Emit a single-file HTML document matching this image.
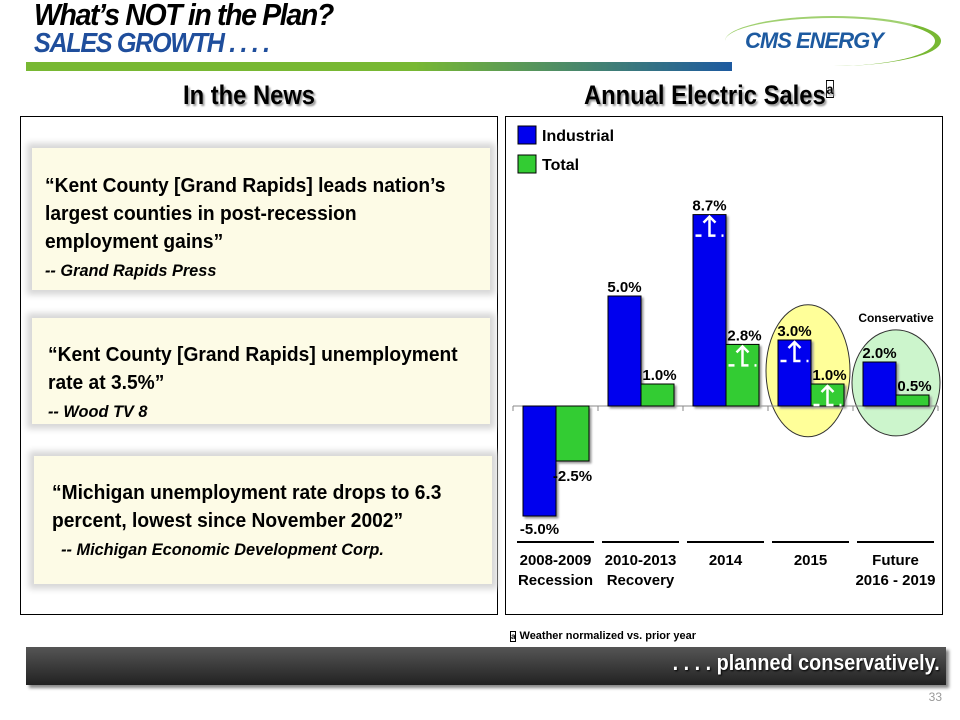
<!DOCTYPE html>
<html><head><meta charset="utf-8"><style>
body{margin:0;width:960px;height:720px;background:#fff;position:relative;overflow:hidden;font-family:"Liberation Sans",sans-serif}
.abs{position:absolute}
.t1{left:34px;top:-3px;font:italic bold 31px "Liberation Sans",sans-serif;letter-spacing:-1.5px;transform:scaleX(.92);transform-origin:left;color:#000;white-space:nowrap}
.t2{left:34px;top:27px;font:italic bold 28px "Liberation Sans",sans-serif;letter-spacing:-1.5px;transform:scaleX(.9);transform-origin:left;color:#1f4e9c;white-space:nowrap}
.h{font:bold 27px "Liberation Sans",sans-serif;transform:scaleX(.88);transform-origin:left;text-shadow:2px 2px 2px #999;white-space:nowrap}
.panel{border:1px solid #000;background:#fff}
.qbox{background:#fdfbe6;box-shadow:0 0 6px 5px #d8d8d8}
.quote{font-weight:bold;font-size:20px;line-height:28px;transform:scaleX(.96);transform-origin:left top;white-space:normal}
</style></head><body>
<div class="abs t1">What’s NOT in the Plan?</div>
<div class="abs t2">SALES GROWTH . . . .</div>
<div class="abs" style="left:26px;top:62px;width:706px;height:9px;background:linear-gradient(90deg,#78b833 0%,#78b833 55%,#1d5aa0 100%)"></div>
<div class="abs" style="left:725px;top:16px;width:210px;height:48px;border-right:6px solid #78b833;border-radius:50%;border-top:2px solid #a0d070;"></div>
<div class="abs" style="left:745px;top:28px;font:italic bold 22px 'Liberation Sans',sans-serif;color:#1d5aa0;letter-spacing:-1px">CMS ENERGY</div>
<div class="abs h" style="left:183px;top:80px">In the News</div>
<div class="abs h" style="left:584px;top:80px">Annual Electric Sales<sup style="font-size:14px;border:1px solid #000">a</sup></div>
<div class="abs panel" style="left:20px;top:116px;width:476px;height:497px"></div>
<div class="abs qbox" style="left:32px;top:148px;width:458px;height:142px"></div>
<div class="abs quote" style="left:45px;top:172px;width:440px">“Kent County [Grand Rapids] leads nation’s largest counties in post-recession employment gains”<br><span style="font-size:17px;font-style:italic">-- Grand Rapids Press</span></div>
<div class="abs qbox" style="left:32px;top:318px;width:458px;height:106px"></div>
<div class="abs quote" style="left:48px;top:341px;width:450px">“Kent County [Grand Rapids] unemployment rate at 3.5%”<br><span style="font-size:17px;font-style:italic">--  Wood TV 8</span></div>
<div class="abs qbox" style="left:34px;top:456px;width:458px;height:128px"></div>
<div class="abs quote" style="left:52px;top:479px;width:440px">“Michigan unemployment rate drops to 6.3 percent, lowest since November 2002”<br><span style="font-size:17px;font-style:italic">&nbsp;&nbsp;--  Michigan Economic Development Corp.</span></div>
<div class="abs panel" style="left:505px;top:116px;width:436px;height:497px"></div>
<svg class="abs" style="left:0;top:0" width="960" height="720" id="chart"></svg>
<div class="abs" style="left:510px;top:630px;font:bold 11px 'Liberation Sans',sans-serif"><span style="border:1px solid #000;font-size:8px">a</span> Weather normalized vs. prior year</div>
<div class="abs" style="left:26px;top:647px;width:920px;height:38px;background:linear-gradient(#555,#222);box-shadow:3px 3px 3px #888"></div>
<div class="abs" style="right:20px;top:650px;color:#fff;font:bold 22px 'Liberation Sans',sans-serif;transform:scaleX(.9);transform-origin:right;text-shadow:1px 1px 2px #000">. . . . planned conservatively.</div>
<div class="abs" style="right:18px;top:690px;color:#999;font-size:12px">33</div>
<script>
const categories=["2008-2009|Recession","2010-2013|Recovery","2014","2015","Future|2016 - 2019"];
const industrial=[-5.0,5.0,8.7,3.0,2.0];
const total=[-2.5,1.0,2.8,1.0,0.5];
const labelsInd=["-5.0%","5.0%","8.7%","3.0%","2.0%"];
const labelsTot=["-2.5%","1.0%","2.8%","1.0%","0.5%"];
const svg=document.getElementById('chart');const NS='http://www.w3.org/2000/svg';
const y0=406,k=22,gx0=513,gw=85,bw=33;
const FF="'Liberation Sans Narrow','Liberation Sans',sans-serif";
const y=v=>y0-v*k;
function mk(t,a,txt){const e=document.createElementNS(NS,t);for(const n in a)e.setAttribute(n,a[n]);if(txt!=null)e.textContent=txt;svg.appendChild(e);return e;}
let o=mk('ellipse',{cx:gx0+3*gw+40,cy:y(1.6),rx:42,ry:66,fill:'#ffff99',stroke:'#333'});

o=mk('ellipse',{cx:gx0+4*gw+43,cy:y(1.05),rx:44,ry:53,fill:'#ccf5cc',stroke:'#333'});

let c=mk('text',{x:gx0+4*gw+43,y:322,'text-anchor':'middle','font-size':12,'font-weight':'bold','font-family':FF},'Conservative');

let ax=mk('line',{x1:gx0,x2:gx0+5*gw,y1:y0,y2:y0,stroke:'#888'});

for(let i=0;i<=5;i++){let t=mk('line',{x1:gx0+i*gw,x2:gx0+i*gw,y1:y0,y2:y0+5,stroke:'#888'});}
categories.forEach((cat,i)=>{
 const bx=gx0+10+i*gw;
 [[industrial[i],'#0000ee',bx,labelsInd[i],'industrial'],[total[i],'#33cc33',bx+bw,labelsTot[i],'total']].forEach(([v,col,x,lab,s],j)=>{
  const top=Math.min(y(v),y0),h=Math.abs(y(v)-y0);
  let r=mk('rect',{x:x,y:top,width:bw,height:h,fill:col,stroke:'#000','stroke-width':1,style:'filter:drop-shadow(2px 2px 1px #999)'});
  
  const ly=v>=0?y(v)-4:(j==0?y(v)+18:y(v)+20);
  let tx=mk('text',{x:x+bw/2+(j==1&&v>=0?2:0),y:ly,'text-anchor':'middle','font-size':15,'font-weight':'bold','font-family':FF},lab);
  
 });
 let ln=mk('line',{x1:gx0+i*gw+4,x2:gx0+(i+1)*gw-4,y1:542,y2:542,stroke:'#000','stroke-width':2});
 
 cat.split('|').forEach((p,m)=>{let t=mk('text',{x:gx0+i*gw+gw/2,y:565+m*20,'text-anchor':'middle','font-size':15,'font-weight':'bold','font-family':FF},p);
  });
});
[[2,0],[2,1],[3,0],[3,1]].forEach(([i,j])=>{
 const v=j?total[i]:industrial[i];const x=gx0+10+i*gw+j*bw+bw/2;const t=y(v);
 let a=mk('path',{d:`M${x-6} ${t+8}L${x} ${t+2}L${x+6} ${t+8}M${x} ${t+3}V${t+21}H${x+6}M${x-14} ${t+21}H${x-8}M${x+12} ${t+21}H${x+14}`,stroke:'#fff','stroke-width':2.5,fill:'none'});
 
});
[['#0000ee','Industrial',126],['#33cc33','Total',155]].forEach(([col,l,yy])=>{
 let r=mk('rect',{x:518,y:yy,width:18,height:18,fill:col,stroke:'#000'});
 let t=mk('text',{x:542,y:yy+15,'font-size':16,'font-weight':'bold','font-family':FF},l);
});
</script>
</body></html>
